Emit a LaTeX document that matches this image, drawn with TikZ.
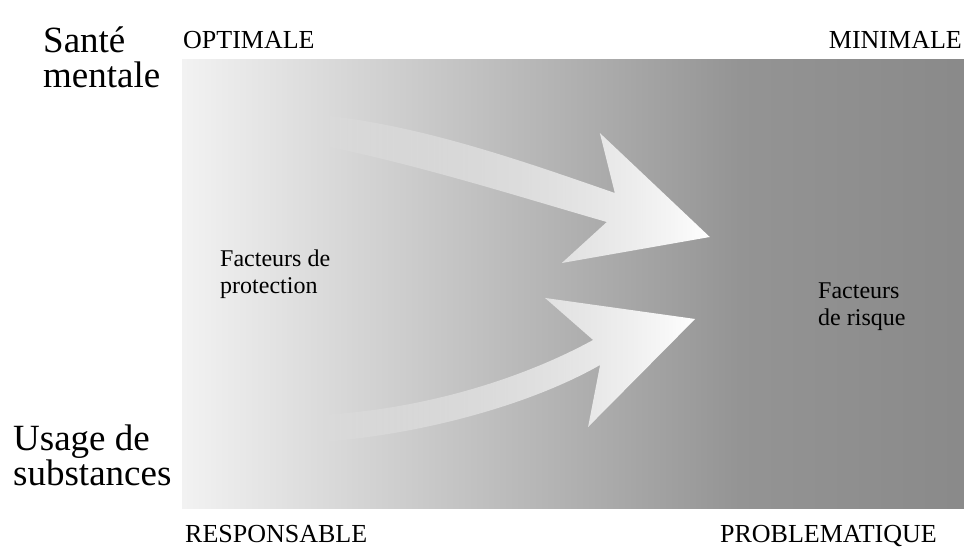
\documentclass[tikz,border=0pt]{standalone}
\usepackage{fontspec}
\setmainfont{Liberation Serif}
\usetikzlibrary{fadings}

\tikzfading[name=tailfade, left color=transparent!100, middle color=transparent!0, right color=transparent!0]

\begin{document}
\begin{tikzpicture}[x=1pt,y=-1pt,
        big/.style={font=\fontsize{37}{35}\selectfont, align=left, inner sep=0pt},
        caps/.style={font=\fontsize{26}{30}\selectfont, inner sep=0pt},
        small/.style={font=\fontsize{24}{27}\selectfont, align=left, inner sep=0pt}]
        \useasboundingbox (0,0) rectangle (964,548);

        \coordinate (TL) at (182,60);
        \coordinate (M) at (740,508);
        \coordinate (BR) at (964,508);

        \shade[left color=black!5, right color=black!42] (TL) rectangle (M);
        \shade[left color=black!42, right color=black!46] (TL -| M) rectangle (BR);

        \fill[white, path fading=tailfade] (320,115) .. controls (420,125) and (520,160) .. (615,193)
            -- (600,133) -- (710,237) -- (562,263) -- (607,222)
            .. controls (520,197) and (420,165) .. (320,145) -- cycle;
        \fill[white, path fading=tailfade] (320,415) .. controls (420,410) and (520,380) .. (593,340)
            -- (545,298) -- (695,319) -- (588,427) -- (600,365)
            .. controls (530,405) and (420,435) .. (320,442) -- cycle;

        \node[big, anchor=base west] (sante) at (43,88) {Santé\\mentale};
        \node[big, anchor=base west] (usage) at (13,485) {Usage de\\substances};
        \node[caps, anchor=base west] (optimale) at (183,49) {OPTIMALE};
        \node[caps, anchor=base east] (minimale) at (962,49) {MINIMALE};
        \node[caps, anchor=base west] (responsable) at (185,542) {RESPONSABLE};
        \node[caps, anchor=base east] (problematique) at (937,542) {PROBLEMATIQUE};
        \node[small, anchor=base west] (protection) at (220,293) {Facteurs de\\protection};
        \node[small, anchor=base west] (risque) at (818,325) {Facteurs\\de risque};
    \end{tikzpicture}
\end{document}
